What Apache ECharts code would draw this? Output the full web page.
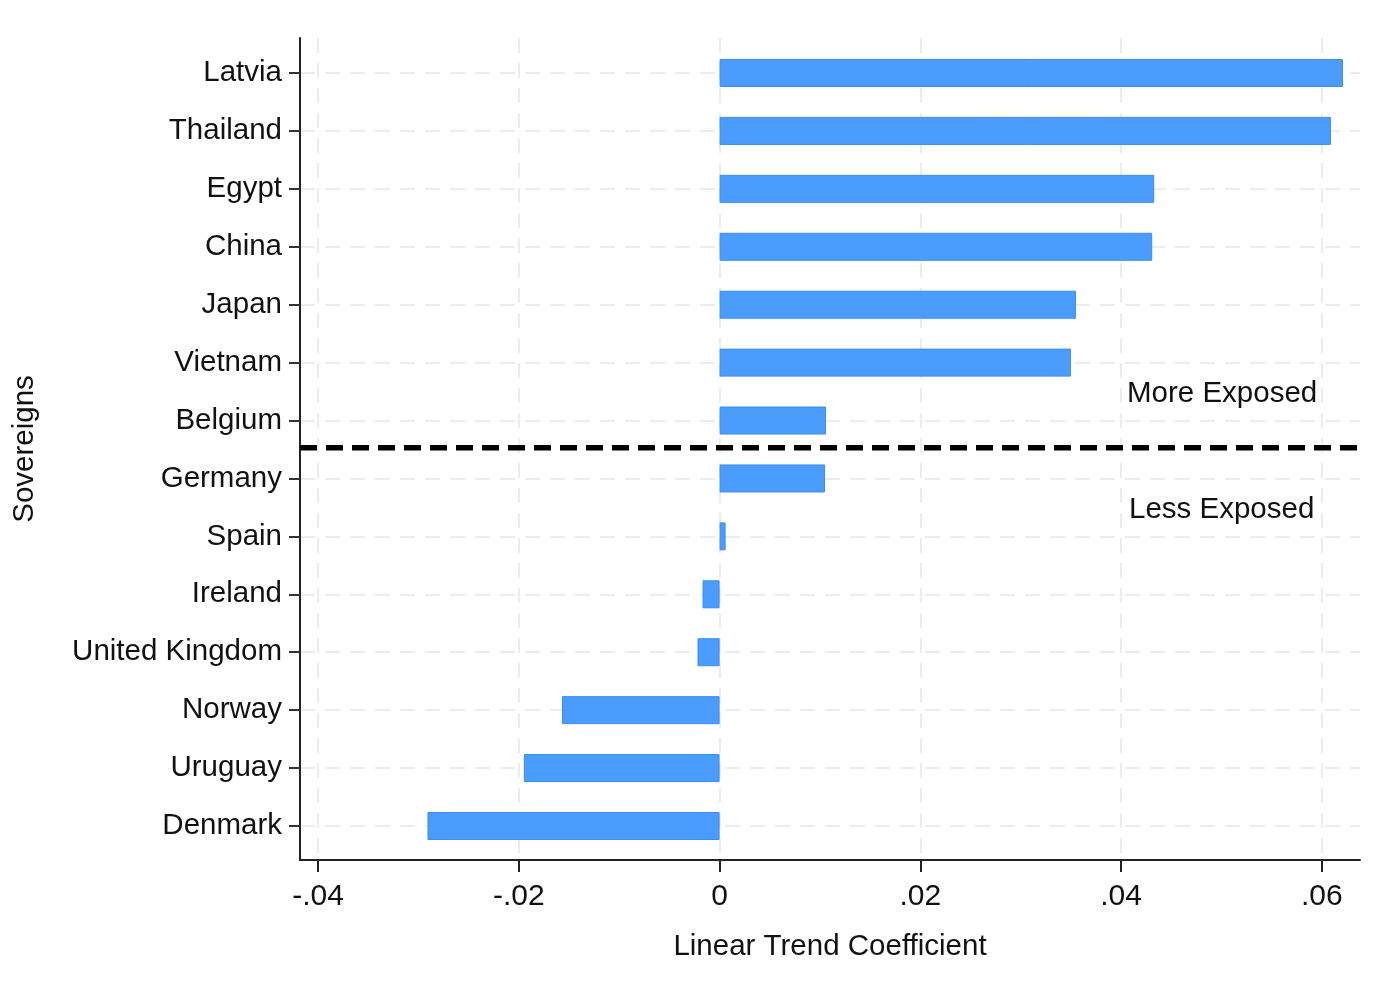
<!DOCTYPE html>
<html lang="en">
<head>
    <meta charset="UTF-8">
    <title>Linear Trend Coefficient</title>
    <script src="https://cdn.jsdelivr.net/npm/echarts@6/dist/echarts.min.js"></script>
    <style>
        html, body { margin: 0; padding: 0; background: #fff; }
        #chart1 { width: 1400px; height: 992px; }
    </style>
</head>
<body>
<div id="chart1"></div>
<script type="text/javascript">
    var countries = ['Latvia', 'Thailand', 'Egypt', 'China', 'Japan', 'Vietnam', 'Belgium',
        'Germany', 'Spain', 'Ireland', 'United Kingdom', 'Norway', 'Uruguay', 'Denmark'];
    var coefs = [0.0621, 0.0609, 0.0433, 0.0431, 0.0355, 0.0350, 0.0106,
        0.0105, 0.0006, -0.0017, -0.0022, -0.0157, -0.0195, -0.0291];
    var xTicks = [-0.04, -0.02, 0, 0.02, 0.04, 0.06];
    var xMin = -0.0418, xMax = 0.0638;
    // split between Belgium and Germany, in category index units
    var splitAt = 6.48;

    var font = '"Liberation Sans", Arial, sans-serif';
    var chart1 = echarts.init(document.getElementById('chart1'));

    function fmt(v) {
        if (Math.abs(v) < 1e-9) return '0';
        return (v < 0 ? '-' : '') + Math.abs(v).toFixed(2).replace(/^0/, '');
    }

    chart1.setOption({
        backgroundColor: '#fff',
        animation: false,
        grid: [
            // bars + categories
            {left: 300, right: 40, top: 73, bottom: 166},
            // frame + x axis
            {left: 300, right: 40, top: 38, bottom: 132}
        ],
        xAxis: [{
            gridIndex: 0, type: 'value', min: xMin, max: xMax, show: false
        }, {
            gridIndex: 1, type: 'value', min: xMin, max: xMax,
            name: 'Linear Trend Coefficient',
            nameLocation: 'middle',
            nameGap: 72,
            nameTextStyle: {fontFamily: font, fontSize: 29.5, color: '#111'},
            axisLine: {show: true, onZero: false, lineStyle: {color: '#222', width: 2}},
            axisTick: {show: true, length: 12, customValues: xTicks, lineStyle: {color: '#222', width: 2}},
            axisLabel: {
                customValues: xTicks, margin: 22,
                fontFamily: font, fontSize: 30, color: '#111',
                formatter: fmt
            },
            splitLine: {show: true, lineStyle: {color: '#ececec', width: 2, type: [15, 10]}}
        }],
        yAxis: [{
            gridIndex: 0, type: 'category', data: countries,
            inverse: true, boundaryGap: false,
            axisLine: {show: false, onZero: false},
            axisTick: {show: true, length: 11, lineStyle: {color: '#333', width: 2}},
            axisLabel: {margin: 18, padding: [4, 0, 0, 0], fontFamily: font, fontSize: 29.5, color: '#111'},
            splitLine: {show: true, lineStyle: {color: '#ececec', width: 2, type: [15, 10]}}
        }, {
            // same category units as the bars, but spanning the full frame
            gridIndex: 1, type: 'value', min: -0.6, max: 13.6, inverse: true,
            name: 'Sovereigns',
            nameLocation: 'middle',
            nameRotate: 90,
            nameGap: 260,
            nameTextStyle: {fontFamily: font, fontSize: 29.5, color: '#111'},
            axisLine: {show: true, onZero: false, lineStyle: {color: '#222', width: 2}},
            axisTick: {show: false},
            axisLabel: {show: false},
            splitLine: {show: false}
        }],
        series: [{
            type: 'bar',
            xAxisIndex: 0,
            yAxisIndex: 0,
            data: coefs,
            barWidth: 28,
            clip: false,
            itemStyle: {color: '#4a9dfc', borderColor: '#3a8ded', borderWidth: 1}
        }, {
            type: 'line',
            xAxisIndex: 1,
            yAxisIndex: 1,
            data: [[xMin, splitAt], [xMax, splitAt]],
            symbol: 'none',
            silent: true,
            z: 5,
            lineStyle: {color: '#000', width: 5.5, type: [17, 9]}
        }],
        graphic: [{
            type: 'text', left: 1127, top: 379,
            style: {text: 'More Exposed', fontFamily: font, fontSize: 29.5, fill: '#111'}
        }, {
            type: 'text', left: 1129, top: 495,
            style: {text: 'Less Exposed', fontFamily: font, fontSize: 29.5, fill: '#111'}
        }]
    });
</script>
</body>
</html>
